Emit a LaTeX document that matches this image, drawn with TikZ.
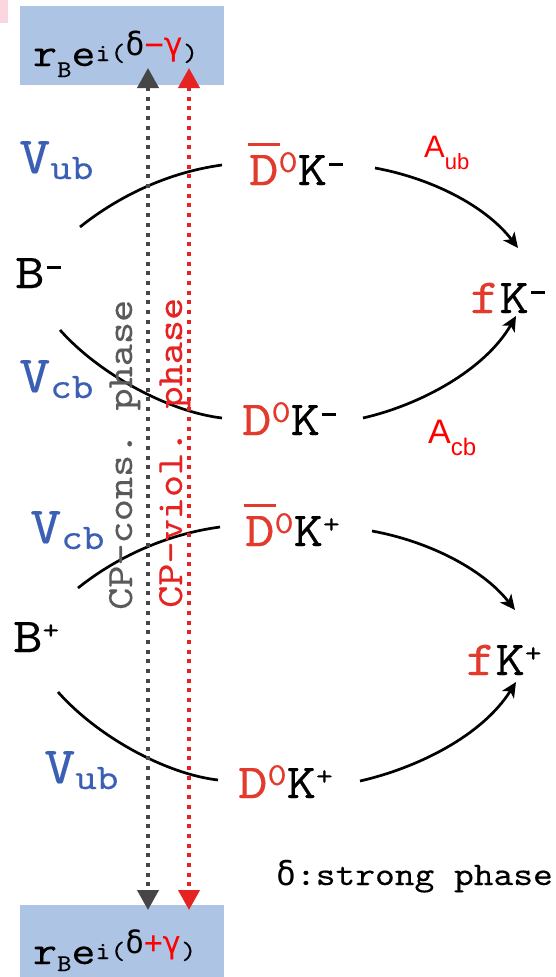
\documentclass[tikz,border=0pt]{standalone}
\usepackage{fontspec}
\setmonofont{lmmono10-regular.otf}[FakeStretch=1.14, FakeBold=0.25]
\renewcommand*\familydefault{\ttdefault}
\newfontfamily\gr{DejaVu Sans Mono}
\newfontfamily\asf{Liberation Sans}
\usetikzlibrary{arrows.meta}
\definecolor{labred}{RGB}{226,58,44}
\definecolor{ared}{RGB}{255,0,0}
\definecolor{vblue}{RGB}{58,95,180}
\definecolor{cpgray}{RGB}{90,90,90}
\definecolor{dotgray}{RGB}{70,70,70}
\definecolor{dotred}{RGB}{230,35,35}
\definecolor{boxblue}{RGB}{174,196,229}
\definecolor{pinkish}{RGB}{250,214,222}
\newcommand\msup{\hspace{2pt}\raisebox{19pt}{\rule{14pt}{2.6pt}}}
\newcommand\psup{\raisebox{13pt}{\fontsize{28}{28}\selectfont +}}
\newcommand\zsup{\raisebox{13pt}{\fontsize{32}{32}\selectfont\textcolor{labred}{0}}}
\newcommand\Dbar{\textcolor{labred}{\rlap{\hspace{-1pt}\raisebox{39pt}{\rule{32pt}{3pt}}}D}}
\newcommand\Dred{\textcolor{labred}{D}}
\newcommand\Vsub[1]{V\raisebox{-6pt}{\fontsize{36}{36}\selectfont #1}}
\begin{document}
\begin{tikzpicture}[x=1pt,y=-1pt,
  lbl/.style={anchor=base west, inner sep=0pt, font=\fontsize{49}{49}\selectfont},
  vlbl/.style={anchor=base west, inner sep=0pt, text=vblue, font=\fontsize{52}{52}\selectfont},
  albl/.style={anchor=base west, inner sep=0pt, text=ared, font=\asf},
  cptxt/.style={anchor=base west, inner sep=0pt, rotate=90, font=\fontsize{37}{37}\selectfont},
  bluebox/.style={anchor=north west, fill=boxblue, inner sep=0pt, minimum width=204pt},
  curve/.style={line width=2.7pt, black},
  curvearr/.style={curve, -{Stealth[length=15pt,width=14pt,inset=4pt]}},
  dotline/.style={line width=4pt, dash pattern=on 4pt off 5.7pt,
    {Triangle[length=20pt,width=21pt]}-{Triangle[length=20pt,width=21pt]}}
]
\useasboundingbox (0,0) rectangle (556,977);
\fill[white] (0,0) rectangle (556,977);
\fill[pinkish] (0,0) rectangle (8,23);

% boxes
\node[bluebox, minimum height=79pt] (topbox) at (20,6) {};
\node[bluebox, minimum height=72pt] (botbox) at (20,905) {};
\node[anchor=base west, inner sep=0pt] (toptxt) at (33,66)
  {\fontsize{40}{40}\selectfont r\raisebox{-11pt}{\fontsize{24}{24}\selectfont B}e\raisebox{5pt}{\fontsize{25}{25}\selectfont i(}\raisebox{11pt}{\gr\fontsize{32}{32}\selectfont δ\textcolor{red}{−γ}}\raisebox{5pt}{\fontsize{25}{25}\selectfont )}};
\node[anchor=base west, inner sep=0pt] (bottxt) at (33,964)
  {\fontsize{40}{40}\selectfont r\raisebox{-7pt}{\fontsize{24}{24}\selectfont B}e\raisebox{5pt}{\fontsize{25}{25}\selectfont i(}\raisebox{11pt}{\gr\fontsize{31}{31}\selectfont δ\textcolor{red}{+γ}}\raisebox{5pt}{\fontsize{25}{25}\selectfont )}};

% particle labels
\node[lbl] (bm) at (15,288) {B\msup};
\node[lbl] (bp) at (13,652) {B\psup};
\node[lbl] (dbkm) at (249,185) {\Dbar\zsup K\msup};
\node[lbl] (dkm) at (242,435) {\Dred\zsup K\msup};
\node[lbl] (dbkp) at (245,546) {\Dbar\zsup K\psup};
\node[lbl] (dkp) at (238,798) {\Dred\zsup K\psup};
\node[lbl] (fkm) at (470,313) {\textcolor{labred}{f}K\msup};
\node[lbl] (fkp) at (466,675) {\textcolor{labred}{f}K\psup};

% CKM labels
\node[vlbl] (vub1) at (19,173) {\Vsub{ub}};
\node[vlbl] (vcb1) at (19,392) {\Vsub{cb}};
\node[vlbl] (vcb2) at (30,543) {\Vsub{cb}};
\node[vlbl] (vub2) at (44,783) {\Vsub{ub}};

% amplitudes
\node[albl] (aub) at (424,157) {\fontsize{31}{31}\selectfont A\raisebox{-12pt}{\fontsize{22}{22}\selectfont ub}};
\node[albl] (acb) at (428,443) {\fontsize{34}{34}\selectfont A\raisebox{-12pt}{\fontsize{24}{24}\selectfont cb}};

% note
\node[anchor=base west, inner sep=0pt] (note) at (276,885)
  {\fontsize{33}{33}\selectfont{\gr δ}:strong phase};

% curve end points
\coordinate (c1a) at (80,227);  \coordinate (c1b) at (222,165);
\coordinate (c2a) at (60,330);  \coordinate (c2b) at (222,418);
\coordinate (c3a) at (375,168); \coordinate (c3b) at (518,248);
\coordinate (c4a) at (363,418); \coordinate (c4b) at (516,316);
\coordinate (c5a) at (78,588);  \coordinate (c5b) at (220,527);
\coordinate (c6a) at (58,692);  \coordinate (c6b) at (218,780);
\coordinate (c7a) at (372,531); \coordinate (c7b) at (515,610);
\coordinate (c8a) at (360,781); \coordinate (c8b) at (516,682);

\draw[curve] (c1a) .. controls (120,195) and (170,172) .. (c1b);
\draw[curve] (c2a) .. controls (100,375) and (170,412) .. (c2b);
\draw[curvearr] (c3a) .. controls (430,178) and (485,205) .. (c3b);
\draw[curvearr] (c4a) .. controls (420,405) and (485,370) .. (c4b);
\draw[curve] (c5a) .. controls (118,556) and (168,534) .. (c5b);
\draw[curve] (c6a) .. controls (98,737) and (166,774) .. (c6b);
\draw[curvearr] (c7a) .. controls (427,541) and (482,568) .. (c7b);
\draw[curvearr] (c8a) .. controls (417,768) and (482,736) .. (c8b);

% rotated phase texts
\node[cptxt, text=cpgray] (cons) at (132,610) {CP-cons. phase};
\node[cptxt, text=dotred] (viol) at (182,608) {CP-viol. phase};

% dotted phase arrows
\coordinate (gT) at (148,68); \coordinate (gB) at (148,910);
\coordinate (rT) at (189,68); \coordinate (rB) at (189,910);
\draw[dotline, dotgray] (gT) -- (gB);
\draw[dotline, dotred] (rT) -- (rB);
\end{tikzpicture}
\end{document}
